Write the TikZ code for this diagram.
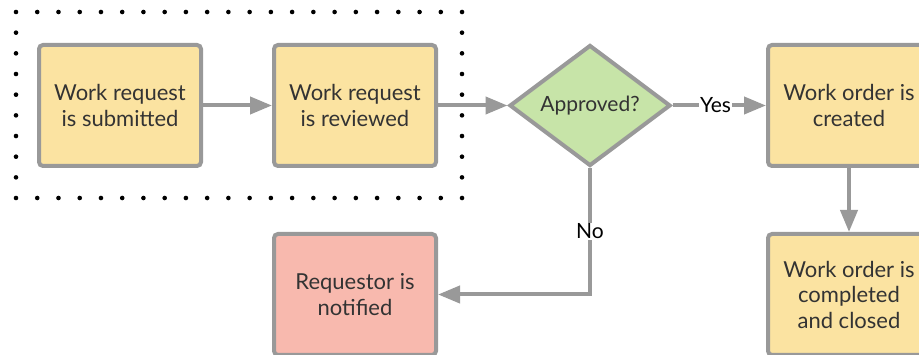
\documentclass[tikz,border=0pt]{standalone}
\usepackage{fontspec}
\setmainfont{Lato}
\usetikzlibrary{shapes.geometric,arrows.meta}
\definecolor{boxyellow}{HTML}{FBE3A1}
\definecolor{boxgreen}{HTML}{C7E4A8}
\definecolor{boxred}{HTML}{F8B9AE}
\definecolor{edgegray}{HTML}{999999}
\definecolor{inkgray}{HTML}{333333}
\tikzset{
  stepbox/.style={draw=edgegray, line width=4pt, rounded corners=4pt,
    minimum width=162pt, minimum height=121pt, inner sep=0pt,
    align=center, text=inkgray, font=\fontsize{22}{25.5}\selectfont},
  yellowbox/.style={stepbox, fill=boxyellow},
  redbox/.style={stepbox, fill=boxred},
  decision/.style={diamond, draw=edgegray, line width=4pt, fill=boxgreen,
    minimum width=161pt, minimum height=121pt, inner sep=0pt,
    text=inkgray, font=\fontsize{21}{25}\selectfont},
  flow/.style={draw=edgegray, line width=4pt,
    -{Triangle[length=22pt,width=17pt]}},
  edgelabel/.style={fill=white, inner sep=1pt, text=black,
    font=\fontsize{21}{24}\selectfont}
}
\begin{document}
\begin{tikzpicture}[x=1pt,y=-1pt]
  \useasboundingbox (0,0) rectangle (919,355);
  \fill[white] (0,0) rectangle (919,355);

  % dotted frame around the request stage
  \foreach \i in {0,...,21} {
    \fill (16+\i*21.24,12) circle (2.3pt);
    \fill (16+\i*21.24,198) circle (2.3pt);
  }
  \foreach \j in {1,...,8} {
    \fill (16,12+\j*20.67) circle (2.3pt);
    \fill (462,12+\j*20.67) circle (2.3pt);
  }

  % steps
  \node[yellowbox] (sub) at (120,105.5) {Work request\\is submitted};
  \node[yellowbox] (rev) at (355,105.5) {Work request\\is reviewed};
  \node[decision]  (apr) at (590,105.5) {Approved?};
  \node[yellowbox] (cre) at (849,105.5) {Work order is\\created};
  \node[yellowbox] (clo) at (849,294.5) {Work order is\\completed\\and closed};
  \node[redbox]    (req) at (355,294.5) {Requestor is\\notified};

  % connectors
  \draw[flow] (sub) -- (rev);
  \draw[flow] (rev) -- (apr.west);
  \draw[flow] (apr.east) -- node[edgelabel, pos=0.46] {Yes} (cre);
  \draw[flow] (cre) -- (clo);
  \draw[flow] (apr.south) |- node[edgelabel, pos=0.25] {No} (req.east);
\end{tikzpicture}
\end{document}
